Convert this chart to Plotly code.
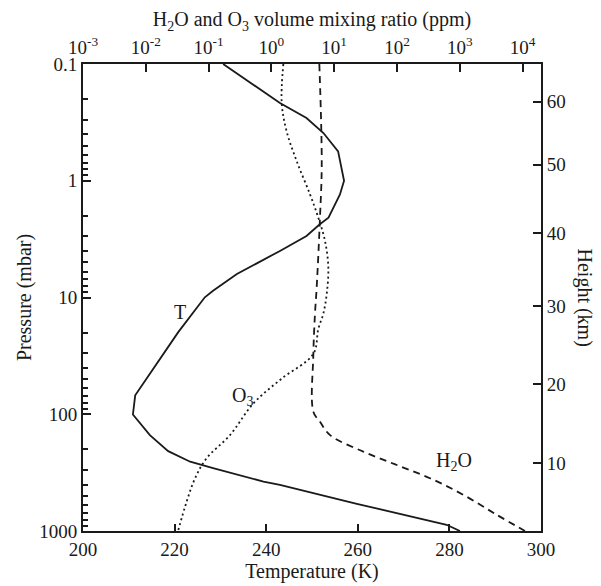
import plotly.graph_objects as go

# Temperature profile: pressure (mbar) and temperature (K)
t_pressure = [0.1, 0.216, 0.29, 0.39, 0.56, 1.0, 1.31, 2.07, 2.36, 2.97, 3.99, 6.3, 8.75,
              9.96, 19.8, 68.9, 100.5, 151, 207, 255, 290, 377, 403, 585, 884, 1000]
t_kelvin = [230.6, 243.0, 248.8, 252.5, 255.7, 257.0, 256.1, 253.6, 251.7, 248.8, 243.0,
            233.6, 228.4, 226.6, 220.8, 211.4, 210.9, 214.6, 218.6, 223.4, 228.4, 239.4,
            243.0, 259.8, 279.4, 282.3]

# Ozone volume mixing ratio (ppm)
o3_pressure = [0.1, 0.216, 0.378, 0.68, 1.31, 2.07, 3.28, 5.52, 9.33, 13.8, 18.6, 30.4,
               49.6, 80.9, 151, 238, 353, 558, 1000]
o3_ppm = [1.55, 1.46, 1.75, 2.53, 4.12, 5.58, 7.14, 8.06, 7.6, 6.7, 5.58, 4.65,
          1.45, 0.515, 0.219, 0.093, 0.061, 0.0448, 0.0326]

# Water vapour volume mixing ratio (ppm)
h2o_pressure = [0.1, 0.726, 2.06, 8.2, 13.8, 31.3, 95, 116, 151, 209, 272, 353, 490, 726, 1000]
h2o_ppm = [5.8, 6.33, 5.94, 5.26, 4.94, 4.65, 4.65, 5.94, 8.6, 29, 99, 335, 1137, 3870, 10900]

# Pressure axis ticks
p_ticks = [0.1, 1, 10, 100, 1000]
p_labels = ["0.1", "1", "10", "100", "1000"]
p_minor = [m * 10 ** e for e in range(-1, 3) for m in range(2, 10)]

# Height scale (km) and the pressure levels they sit at
height_km = [10, 20, 30, 40, 50, 60]
height_pressure = [264, 55.5, 11.9, 2.8, 0.73, 0.21]

# Temperature axis ticks
temp_ticks = [200, 220, 240, 260, 280, 300]

# Mixing ratio axis ticks
mix_exponents = [-3, -2, -1, 0, 1, 2, 3, 4]

FONT = "Liberation Serif"
INK = "#1a1a1a"
TICK_SIZE = 19
TITLE_SIZE = 20

fig = go.Figure()

fig.add_trace(go.Scatter(x=t_kelvin, y=t_pressure, mode="lines",
                         line=dict(color=INK, width=1.8), xaxis="x", yaxis="y"))
fig.add_trace(go.Scatter(x=o3_ppm, y=o3_pressure, mode="lines", line_shape="spline",
                         line=dict(color=INK, width=1.8, dash="2px,3px"),
                         xaxis="x2", yaxis="y"))
fig.add_trace(go.Scatter(x=h2o_ppm, y=h2o_pressure, mode="lines", line_shape="spline",
                         line=dict(color=INK, width=1.8, dash="7px,5px"),
                         xaxis="x2", yaxis="y"))
# invisible trace to keep the height axis active
fig.add_trace(go.Scatter(x=[None], y=[None], xaxis="x", yaxis="y2", showlegend=False))

tickfont = dict(family=FONT, size=TICK_SIZE, color=INK)
titlefont = dict(family=FONT, size=TITLE_SIZE, color=INK)

fig.update_layout(
    width=601, height=586,
    margin=dict(l=83, r=60, t=64, b=53),
    paper_bgcolor="white", plot_bgcolor="white",
    showlegend=False,
    font=dict(family=FONT, size=TICK_SIZE, color=INK),
    xaxis=dict(
        range=[200, 300], tickvals=temp_ticks, ticks="inside", ticklen=7, tickwidth=1.5,
        tickcolor=INK, showline=True, linecolor=INK, linewidth=2, showgrid=False,
        zeroline=False, tickfont=tickfont,
        title=dict(text="Temperature (K)", font=titlefont, standoff=0),
    ),
    xaxis2=dict(
        type="log", range=[-3, 4.293], overlaying="x", side="top",
        tickvals=[10.0 ** e for e in mix_exponents],
        ticktext=["10<sup>%d</sup>" % e for e in mix_exponents],
        ticks="inside", ticklen=8, tickwidth=1.5, tickcolor=INK,
        showline=True, linecolor=INK, linewidth=2, showgrid=False, tickfont=tickfont,
        title=dict(text="H<sub>2</sub>O and O<sub>3</sub> volume mixing ratio (ppm)",
                   font=titlefont, standoff=2),
    ),
    yaxis=dict(
        type="log", range=[3, -1], tickvals=p_ticks, ticktext=p_labels,
        ticks="inside", ticklen=8, tickwidth=1.5, tickcolor=INK,
        minor=dict(tickvals=p_minor, ticks="inside", ticklen=5, tickwidth=1.5, tickcolor=INK),
        showline=True, linecolor=INK, linewidth=2, showgrid=False, tickfont=tickfont,
        title=dict(text="Pressure (mbar)", font=titlefont, standoff=2),
    ),
    yaxis2=dict(
        type="log", range=[3, -1], overlaying="y", side="right",
        tickvals=height_pressure, ticktext=[str(h) for h in height_km],
        ticks="inside", ticklen=8, tickwidth=1.5, tickcolor=INK,
        showline=True, linecolor=INK, linewidth=2, showgrid=False, tickfont=tickfont,
    ),
    annotations=[
        dict(text="Height (km)", textangle=90, xref="paper", yref="paper", x=1, y=0.5,
             xanchor="center", yanchor="middle", xshift=43, showarrow=False, font=titlefont),
        dict(text="T", x=221.2, y=1.124, xref="x", yref="y", showarrow=False, font=titlefont),
        dict(text="O<sub>3</sub>", x=234.8, y=1.851, xref="x", yref="y", showarrow=False,
             font=titlefont),
        dict(text="H<sub>2</sub>O", x=281, y=2.406, xref="x", yref="y", showarrow=False,
             font=titlefont),
    ],
)

fig.write_html("out.html")
